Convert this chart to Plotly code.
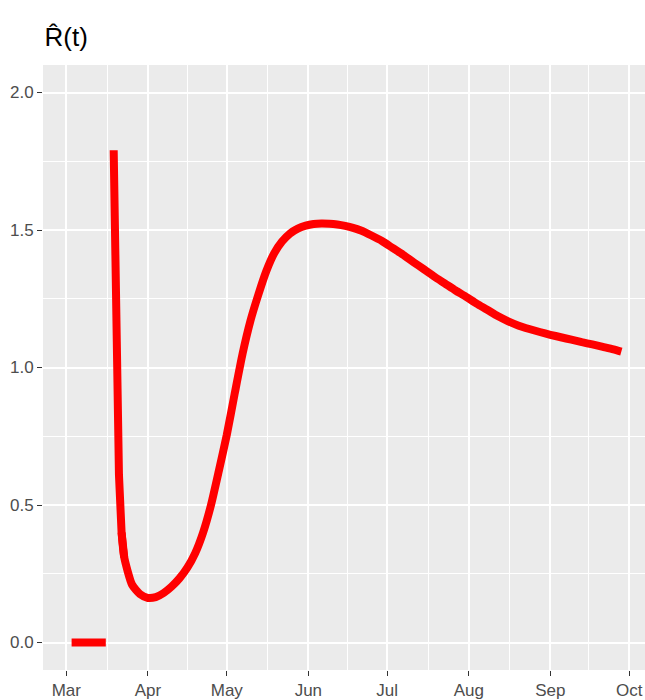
import plotly.graph_objects as go

# zero segment (early days)
zero_dates = ["2020-03-03", "2020-03-05", "2020-03-07", "2020-03-09", "2020-03-11",
              "2020-03-13", "2020-03-16"]
zero_vals = [0, 0, 0, 0, 0, 0, 0]

# main R(t) estimate
r_dates = ["2020-03-19", "2020-03-20", "2020-03-21", "2020-03-22", "2020-03-23",
           "2020-03-26", "2020-03-29", "2020-04-01", "2020-04-04", "2020-04-07",
           "2020-04-10", "2020-04-13", "2020-04-16", "2020-04-19", "2020-04-22",
           "2020-04-25", "2020-04-28", "2020-05-01", "2020-05-04", "2020-05-07",
           "2020-05-10", "2020-05-13", "2020-05-16", "2020-05-19", "2020-05-22",
           "2020-05-25", "2020-05-28", "2020-05-31", "2020-06-03", "2020-06-06",
           "2020-06-09", "2020-06-12", "2020-06-15", "2020-06-18", "2020-06-21",
           "2020-06-25", "2020-06-29", "2020-07-03", "2020-07-07", "2020-07-11",
           "2020-07-15", "2020-07-19", "2020-07-23", "2020-07-27", "2020-07-31",
           "2020-08-04", "2020-08-08", "2020-08-12", "2020-08-16", "2020-08-20",
           "2020-08-24", "2020-08-28", "2020-09-01", "2020-09-05", "2020-09-09",
           "2020-09-13", "2020-09-17", "2020-09-21", "2020-09-25", "2020-09-28"]
r_vals = [1.79, 0.96, 0.61, 0.40, 0.31,
          0.21, 0.176, 0.162, 0.165, 0.18,
          0.203, 0.233, 0.272, 0.325, 0.40,
          0.50, 0.625, 0.755, 0.905, 1.05,
          1.17, 1.265, 1.35, 1.415, 1.458,
          1.487, 1.505, 1.516, 1.522, 1.524,
          1.523, 1.52, 1.515, 1.508, 1.498,
          1.48, 1.46, 1.435, 1.41, 1.383,
          1.357, 1.33, 1.305, 1.28, 1.257,
          1.232, 1.21, 1.187, 1.168, 1.152,
          1.14, 1.129, 1.119, 1.11, 1.101,
          1.092, 1.084, 1.075, 1.066, 1.058]

month_ticks = ["2020-03-01", "2020-04-01", "2020-05-01", "2020-06-01", "2020-07-01",
               "2020-08-01", "2020-09-01", "2020-10-01"]
month_labels = ["Mar", "Apr", "May", "Jun", "Jul", "Aug", "Sep", "Oct"]
minor_x = ["2020-03-16 12:00", "2020-04-16", "2020-05-16 12:00", "2020-06-16",
           "2020-07-16 12:00", "2020-08-16 12:00", "2020-09-15 12:00"]
y_ticks = [0.0, 0.5, 1.0, 1.5, 2.0]
y_labels = ["0.0", "0.5", "1.0", "1.5", "2.0"]
y_minor = [0.25, 0.75, 1.25, 1.75]

FONT = "Liberation Sans, Arial, sans-serif"
STEEP_END = 4     # sharp initial drop drawn straight up to this index
SMOOTH_START = 3  # smoothed part starts here (overlaps to hide the joint)

fig = go.Figure()
line_style = dict(color="#FF0000", width=8)
fig.add_trace(go.Scatter(x=zero_dates, y=zero_vals, mode="lines", line=line_style,
                         showlegend=False, hoverinfo="skip"))
fig.add_trace(go.Scatter(x=r_dates[:STEEP_END + 1], y=r_vals[:STEEP_END + 1], mode="lines",
                         line=line_style, showlegend=False))
fig.add_trace(go.Scatter(x=r_dates[SMOOTH_START:], y=r_vals[SMOOTH_START:], mode="lines",
                         line=dict(color="#FF0000", width=8, shape="spline", smoothing=0.6),
                         showlegend=False))

axis_common = dict(
    showline=False, zeroline=False, automargin=False,
    gridcolor="#FFFFFF", gridwidth=1.6,
    ticks="outside", ticklen=5, tickwidth=1, tickcolor="#333333",
    tickfont=dict(family=FONT, size=17, color="#4D4D4D"),
)

fig.update_layout(
    width=645, height=700,
    margin=dict(l=43, r=0, t=65, b=30),
    paper_bgcolor="#FFFFFF", plot_bgcolor="#EBEBEB",
    title=dict(text="R\u0302(t)", x=0.069, xref="container", xanchor="left",
               y=0.947, yref="container", yanchor="middle", pad=dict(t=0, l=0, b=0, r=0),
               font=dict(family=FONT, size=26, color="#000000")),
    xaxis=dict(
        type="date",
        range=["2020-02-21 03:00", "2020-10-07"],
        tickmode="array", tickvals=month_ticks, ticktext=month_labels,
        minor=dict(tickmode="array", tickvals=minor_x, showgrid=True,
                   gridcolor="#FFFFFF", gridwidth=0.8, ticks=""),
        **axis_common,
    ),
    yaxis=dict(
        range=[-0.1, 2.1],
        tickmode="array", tickvals=y_ticks, ticktext=y_labels,
        minor=dict(tickmode="array", tickvals=y_minor, showgrid=True,
                   gridcolor="#FFFFFF", gridwidth=0.8, ticks=""),
        **axis_common,
    ),
)

# remove the default page margin so the 645x700 figure fills the window exactly
fig.write_html("out.html",
               config={"displayModeBar": False},
               post_script="document.body.style.margin='0';document.body.style.overflow='hidden';")
